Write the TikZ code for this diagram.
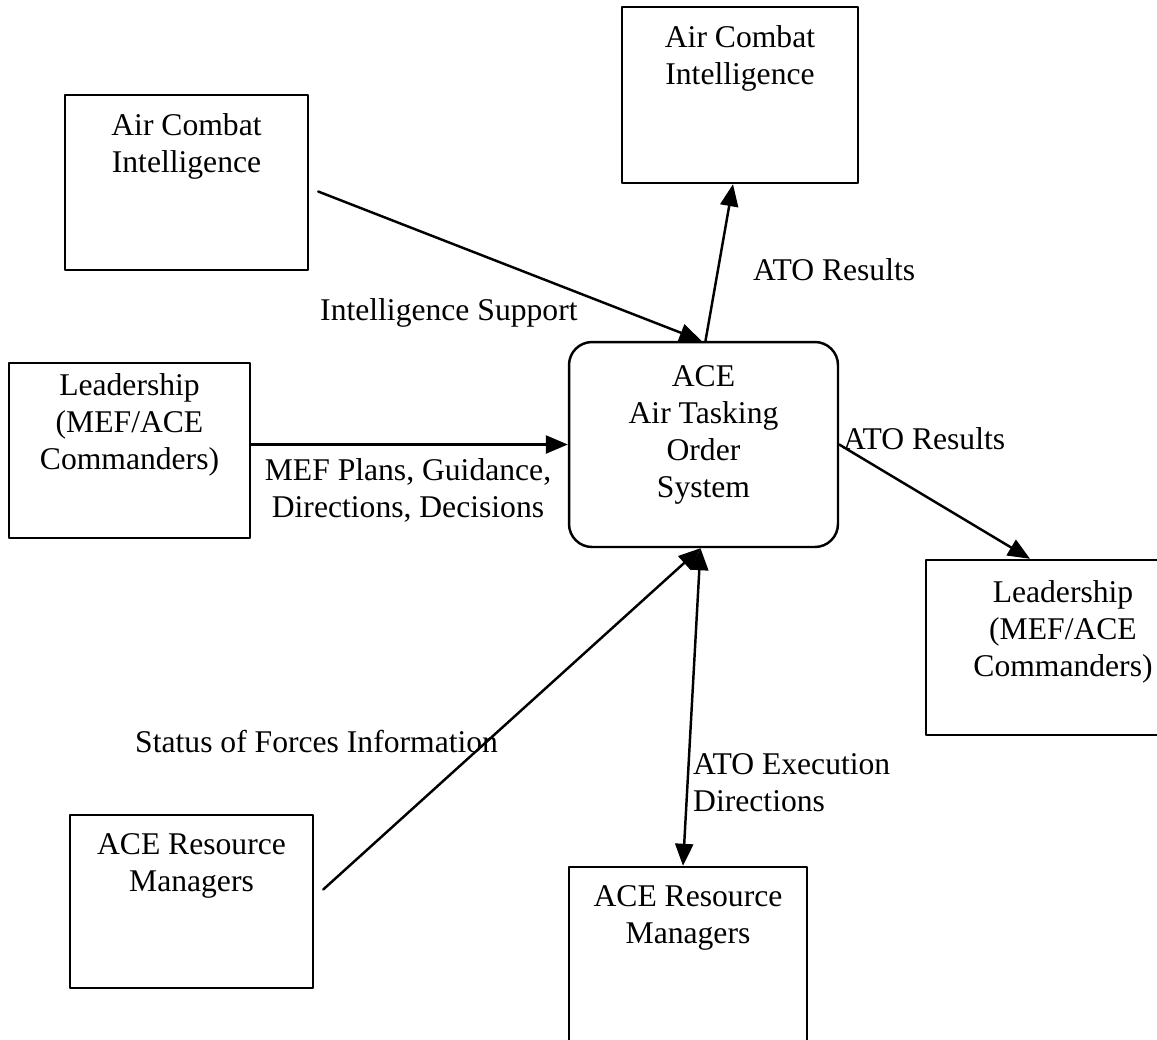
\documentclass[tikz,border=0pt]{standalone}
\usepackage{fontspec}
\setmainfont{Liberation Serif}
\usetikzlibrary{arrows.meta}

\begin{document}
\begin{tikzpicture}[x=0.02cm, y=-0.02cm, font=\fontsize{18}{21}\selectfont, line join=round, line cap=round, line width=1.4pt, >={Triangle[length=0.44cm,width=0.36cm]},
    ebox/.style={draw, inner sep=0pt, minimum height=3.5cm},
    btxt/.style={align=center, anchor=north, inner sep=0pt, yshift=-#1},
    btxt/.default=0.37cm,
    elbl/.style={inner sep=0pt}]
  \def\W{1157} \def\H{1039} % page size (px)
  \useasboundingbox (0,0) rectangle (\W,\H);
  \clip (0,0) rectangle (\W,\H);
  % boxes
  \node[ebox, minimum width=4.72cm, minimum height=3.52cm, label={[btxt]north:{Air Combat\\Intelligence}}] (aciR) at (740,95) {};
  \node[ebox, minimum width=4.86cm, label={[btxt]north:{Air Combat\\Intelligence}}] (aciL) at (186.5,182.5) {};
  \node[ebox, minimum width=4.82cm, label={[btxt=0.22cm]north:{Leadership\\(MEF/ACE\\Commanders)}}] (leadL) at (129.5,450.5) {};
  \node[ebox, minimum width=5.38cm, minimum height=4.1cm, rounded corners=0.46cm, label={[btxt=0.48cm]north:{ACE\\Air Tasking\\Order\\System}}] (ato) at (703.5,444.5) {};
  \node[ebox, minimum width=5.56cm, label={[btxt=0.42cm, xshift=-0.04cm]north:{Leadership\\(MEF/ACE\\Commanders)}}] (leadR) at (1065,647.5) {};
  \node[ebox, minimum width=4.86cm, minimum height=3.46cm, label={[btxt]north:{ACE Resource\\Managers}}] (rmL) at (191.5,901.5) {};
  \node[ebox, minimum width=4.76cm, label={[btxt]north:{ACE Resource\\Managers}}] (rmB) at (688,954.5) {};
  % flow labels
  \node[elbl, anchor=north west] (lIntel) at (319,297) {Intelligence Support};
  \node[elbl, anchor=north west] (lResA) at (752,257) {ATO Results};
  \node[elbl, anchor=north west] (lResB) at (842,426) {ATO Results};
  \node[elbl, anchor=north, align=center] (lMef) at (408,457) {MEF Plans, Guidance,\\Directions, Decisions};
  \node[elbl, anchor=north west] (lStatus) at (134,729) {Status of Forces Information};
  \node[elbl, anchor=north west, align=left] (lExec) at (692,752) {ATO Execution\\Directions};
  % flows
  \draw[->] ([shift={(9,9)}]aciL.east) -- ([shift={(-2,0)}]ato.north);
  \draw[->] ([shift={(2,0)}]ato.north) -- ([shift={(-7,0)}]aciR.south);
  \draw[->] (leadL.east |- ato.west) -- (ato.west);
  \draw[->] (ato.east) -- ([shift={(-35,0)}]leadR.north);
  \draw[->] ([shift={(9,-12)}]rmL.east) -- ([shift={(-3,0)}]ato.south);
  \draw[<->] ([shift={(-3,0)}]ato.south) -- ([shift={(-5,0)}]rmB.north);
\end{tikzpicture}
\end{document}
